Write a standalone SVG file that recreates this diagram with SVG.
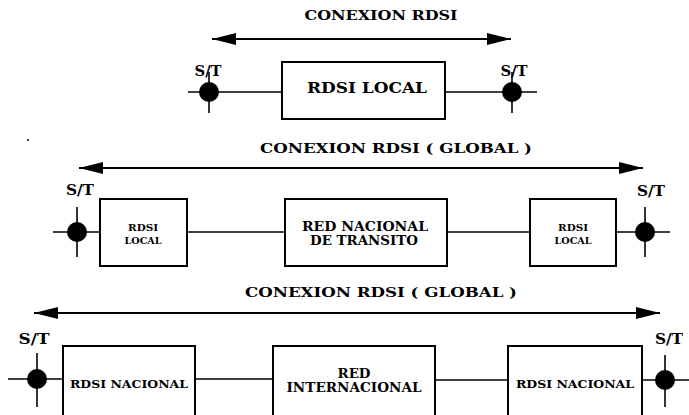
<svg xmlns="http://www.w3.org/2000/svg" width="689" height="415" viewBox="0 0 689 415">
<defs>
<style>
.t{font-family:'DejaVu Serif','Liberation Serif',serif;font-weight:bold;fill:#000}
.box{fill:#fff;stroke:#000;stroke-width:2}
.ln{stroke:#000;stroke-width:1.6;fill:none}
.ar{stroke:#000;stroke-width:2;fill:none;marker-start:url(#ah);marker-end:url(#ah)}
.dot{fill:#000}
</style>
<marker id="ah" markerUnits="userSpaceOnUse" markerWidth="26" markerHeight="12" refX="24" refY="6" orient="auto-start-reverse">
<path d="M0,0 L24,6 L0,12 Z" fill="#000"/>
</marker>
</defs>
<rect width="689" height="415" fill="#fff"/>

<g id="connectors">
<line class="ar" x1="212" y1="39" x2="511" y2="39"/>
<line class="ln" x1="188" y1="92" x2="282" y2="92"/>
<line class="ln" x1="209" y1="72" x2="209" y2="113"/>
<line class="ln" x1="445" y1="92" x2="537" y2="92"/>
<line class="ln" x1="512" y1="72" x2="512" y2="113"/>
<line class="ar" x1="79" y1="168" x2="643" y2="168"/>
<line class="ln" x1="53" y1="232" x2="100" y2="232"/>
<line class="ln" x1="77" y1="207" x2="77" y2="257"/>
<line class="ln" x1="187" y1="232" x2="285" y2="232"/>
<line class="ln" x1="447" y1="232" x2="530" y2="232"/>
<line class="ln" x1="616" y1="232" x2="670" y2="232"/>
<line class="ln" x1="645" y1="207" x2="645" y2="257"/>
<line class="ar" x1="34" y1="313" x2="660" y2="313"/>
<line class="ln" x1="8" y1="379" x2="63" y2="379"/>
<line class="ln" x1="37" y1="353" x2="37" y2="407"/>
<line class="ln" x1="195" y1="379" x2="273" y2="379"/>
<line class="ln" x1="435" y1="380" x2="508" y2="380"/>
<line class="ln" x1="642" y1="380" x2="689" y2="380"/>
<line class="ln" x1="665" y1="355" x2="665" y2="407"/>
</g>

<g id="titles">
<text class="t" x="381" y="20" font-size="12" text-anchor="middle" textLength="153" lengthAdjust="spacingAndGlyphs">CONEXION RDSI</text>
<text class="t" x="396" y="153" font-size="13" text-anchor="middle" textLength="272" lengthAdjust="spacingAndGlyphs">CONEXION RDSI ( GLOBAL )</text>
<text class="t" x="381" y="297" font-size="13" text-anchor="middle" textLength="272" lengthAdjust="spacingAndGlyphs">CONEXION RDSI ( GLOBAL )</text>
</g>

<g id="st1L"><circle class="dot" cx="209" cy="92" r="10"/><text class="t" x="208" y="76" font-size="14" text-anchor="middle" textLength="27" lengthAdjust="spacingAndGlyphs">S/T</text></g>
<g id="st1R"><circle class="dot" cx="512" cy="92" r="10"/><text class="t" x="514" y="76" font-size="14" text-anchor="middle" textLength="27" lengthAdjust="spacingAndGlyphs">S/T</text></g>
<g id="rdsiLocal1">
<rect class="box" x="282" y="62" width="163" height="57"/>
<text class="t" x="367" y="93" font-size="14" text-anchor="middle" textLength="120" lengthAdjust="spacingAndGlyphs">RDSI  LOCAL</text>
</g>

<circle cx="28" cy="140" r="1" fill="#000"/>

<g id="st2L"><circle class="dot" cx="77" cy="232" r="10"/><text class="t" x="80" y="195" font-size="14" text-anchor="middle" textLength="28" lengthAdjust="spacingAndGlyphs">S/T</text></g>
<g id="st2R"><circle class="dot" cx="645" cy="232" r="10"/><text class="t" x="651" y="196" font-size="14" text-anchor="middle" textLength="28" lengthAdjust="spacingAndGlyphs">S/T</text></g>
<g id="rdsiLocal2a">
<rect class="box" x="100" y="199" width="87" height="67"/>
<text class="t" x="143" y="231" font-size="10" text-anchor="middle" textLength="30" lengthAdjust="spacingAndGlyphs">RDSI</text>
<text class="t" x="143" y="244" font-size="10" text-anchor="middle" textLength="37" lengthAdjust="spacingAndGlyphs">LOCAL</text>
</g>
<g id="redNacional">
<rect class="box" x="285" y="199" width="162" height="67"/>
<text class="t" x="365" y="231" font-size="12" text-anchor="middle" textLength="126" lengthAdjust="spacingAndGlyphs">RED NACIONAL</text>
<text class="t" x="364" y="245" font-size="12" text-anchor="middle" textLength="108" lengthAdjust="spacingAndGlyphs">DE TRANSITO</text>
</g>
<g id="rdsiLocal2b">
<rect class="box" x="530" y="199" width="86" height="67"/>
<text class="t" x="573" y="231" font-size="10" text-anchor="middle" textLength="30" lengthAdjust="spacingAndGlyphs">RDSI</text>
<text class="t" x="573" y="244" font-size="10" text-anchor="middle" textLength="37" lengthAdjust="spacingAndGlyphs">LOCAL</text>
</g>

<g id="st3L"><circle class="dot" cx="37" cy="379" r="10"/><text class="t" x="34" y="344" font-size="14" text-anchor="middle" textLength="31" lengthAdjust="spacingAndGlyphs">S/T</text></g>
<g id="st3R"><circle class="dot" cx="665" cy="380" r="10"/><text class="t" x="669" y="344" font-size="14" text-anchor="middle" textLength="28" lengthAdjust="spacingAndGlyphs">S/T</text></g>
<g id="rdsiNacional1">
<rect class="box" x="63" y="346" width="132" height="90"/>
<text class="t" x="129" y="388" font-size="11" text-anchor="middle" textLength="118" lengthAdjust="spacingAndGlyphs">RDSI NACIONAL</text>
</g>
<g id="redInternacional">
<rect class="box" x="273" y="346" width="162" height="90"/>
<text class="t" x="354" y="378" font-size="12" text-anchor="middle" textLength="33" lengthAdjust="spacingAndGlyphs">RED</text>
<text class="t" x="354" y="392" font-size="12" text-anchor="middle" textLength="135" lengthAdjust="spacingAndGlyphs">INTERNACIONAL</text>
</g>
<g id="rdsiNacional2">
<rect class="box" x="508" y="346" width="134" height="90"/>
<text class="t" x="575" y="388" font-size="11" text-anchor="middle" textLength="118" lengthAdjust="spacingAndGlyphs">RDSI NACIONAL</text>
</g>
</svg>
